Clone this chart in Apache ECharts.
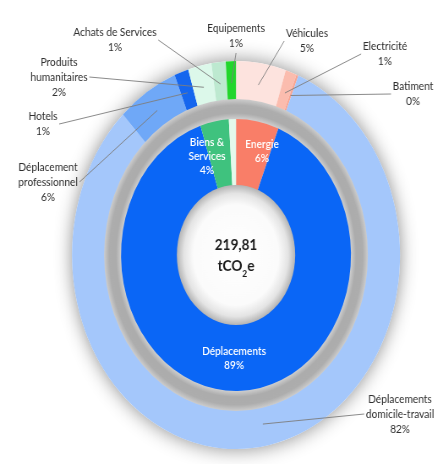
<!DOCTYPE html>
<html>
<head>
<meta charset="utf-8">
<script src="https://cdn.jsdelivr.net/npm/echarts@6/dist/echarts.min.js"></script>
<style>
  html, body { margin: 0; padding: 0; background: #ffffff; overflow: hidden; }
  #chart { width: 516px; height: 464px; transform: scaleX(0.8454); transform-origin: 0 0; }
</style>
</head>
<body>
<div id="chart"></div>
<script>
// Carbon footprint breakdown, shares of the total (%)
const TOTAL = '219,81';
const UNIT = 'tCO₂e';

// inner ring: main categories (clockwise from 12 o'clock)
const innerNames = ['Energie', 'Déplacements', 'Biens &\nServices', ''];
const innerValues = [6, 89, 4, 1];

// outer ring: sub-categories (clockwise from 12 o'clock)
const outerNames = [
  'Véhicules', 'Electricité', 'Batiment',
  'Déplacements\ndomicile-travail', 'Déplacement\nprofessionnel', 'Hotels',
  'Produits\nhumanitaires', 'Achats de Services', 'Equipements'
];
const outerValues = [4.9, 1.1, 0.2, 81.6, 6.0, 1.4, 2.3, 1.4, 1.0];

// colours
const innerColors = ['#f97e68', '#0a66f6', '#3fc27e', '#e4f9ec'];
const outerColors = ['#fde3de', '#fbbcae', '#f8a592', '#a4c7fb', '#6fa8f7', '#1566ee', '#dcf8ea', '#bde9d0', '#22d62c'];

// the canvas is squeezed horizontally by CSS, which makes the rings elliptical
const SX = 0.8454;
const CENTER = [236 / SX, 255];

// where each label sits on the page (page pixels, x / y)
const outerLabelSpots = [[307, 41], [385, 54], [413, 94], [400, 414], [48, 182], [43, 124], [59, 77], [115, 40], [236, 36]];
const innerLabelSpots = [[262, 151], [234, 358], [207, 156], null];

const FONT = 'Lato, "Open Sans", sans-serif';

function spotLayout(spots) {
  return function (params) {
    const p = spots[params.dataIndex];
    if (!p) return {};
    return { x: p[0] / SX, y: p[1], align: 'center', verticalAlign: 'middle' };
  };
}

const pctLabel = p => p.name + '\n' + Math.round(p.value) + '%';

const outerData = outerValues.map((v, i) => ({
  name: outerNames[i], value: v, itemStyle: { color: outerColors[i] }
}));
const innerData = innerValues.map((v, i) => ({
  name: innerNames[i], value: v, itemStyle: { color: innerColors[i] },
  label: { show: innerNames[i] !== '' }
}));

const flat = { scale: false, disabled: true };

const chart = echarts.init(document.getElementById('chart'), null, { renderer: 'canvas' });
chart.setOption({
  backgroundColor: '#ffffff',
  animation: false,
  series: [
    // soft shadow behind the whole disc
    {
      type: 'pie', silent: true, z: 1, center: CENTER, radius: [0, 194],
      label: { show: false }, labelLine: { show: false }, emphasis: flat,
      itemStyle: { color: '#ffffff', borderWidth: 0, shadowBlur: 20, shadowColor: 'rgba(0,0,0,0.45)' },
      data: [{ value: 1 }]
    },
    // outer ring
    {
      type: 'pie', silent: true, z: 2, center: CENTER, radius: [155, 194],
      startAngle: 90, clockwise: true, avoidLabelOverlap: false,
      label: { show: false }, labelLine: { show: false }, emphasis: flat,
      itemStyle: { borderWidth: 0 },
      data: outerData
    },
    // grey separator ring
    {
      type: 'pie', silent: true, z: 2, center: CENTER, radius: [135, 156],
      label: { show: false }, labelLine: { show: false }, emphasis: flat,
      itemStyle: {
        borderWidth: 0,
        color: new echarts.graphic.RadialGradient(0.5, 0.5, 0.5, [
          { offset: 0.865, color: '#d4d4d4' },
          { offset: 0.91, color: '#acacac' },
          { offset: 0.96, color: '#adadad' },
          { offset: 1, color: '#cdcdcd' }
        ])
      },
      data: [{ value: 1 }]
    },
    // inner ring
    {
      type: 'pie', silent: true, z: 3, center: CENTER, radius: [68, 136],
      startAngle: 90, clockwise: true, avoidLabelOverlap: false,
      emphasis: flat,
      itemStyle: { borderWidth: 0 },
      label: {
        show: true, position: 'inside', rotate: 0, formatter: pctLabel,
        color: '#ffffff', fontFamily: FONT, fontSize: 12, fontWeight: 600, lineHeight: 14
      },
      labelLine: { show: false },
      labelLayout: spotLayout(innerLabelSpots),
      data: innerData
    },
    // central hole with the total
    {
      type: 'pie', silent: true, z: 4, center: CENTER, radius: [0, 70],
      labelLine: { show: false }, emphasis: flat,
      itemStyle: {
        borderWidth: 0,
        color: new echarts.graphic.RadialGradient(0.5, 0.5, 0.5, [
          { offset: 0, color: '#ffffff' },
          { offset: 0.72, color: '#fbfbfb' },
          { offset: 0.88, color: '#e4e4e4' },
          { offset: 1, color: '#b4b4b4' }
        ])
      },
      label: {
        show: true, position: 'center',
        formatter: '{v|' + TOTAL + '}\n{u|tCO}{s|2}{u|e}',
        rich: {
          v: { fontFamily: FONT, fontSize: 16, fontWeight: 700, color: '#1c1c1c', lineHeight: 21 },
          u: { fontFamily: FONT, fontSize: 16, fontWeight: 700, color: '#1c1c1c', lineHeight: 21 },
          s: { fontFamily: FONT, fontSize: 10, fontWeight: 700, color: '#1c1c1c', lineHeight: 21, verticalAlign: 'bottom', padding: [0, 0, -3, 0] }
        }
      },
      data: [{ value: 1, name: UNIT }]
    },
    // outer labels, anchored on the middle of the outer ring
    {
      type: 'pie', silent: true, z: 10, center: CENTER, radius: [0, 172],
      startAngle: 90, clockwise: true, avoidLabelOverlap: false,
      emphasis: flat,
      itemStyle: { color: 'rgba(0,0,0,0)', borderWidth: 0 },
      label: {
        show: true, position: 'outside', formatter: pctLabel,
        color: '#2e2e2e', fontFamily: FONT, fontSize: 12, lineHeight: 15, padding: 2
      },
      labelLine: {
        show: true, length: 4, length2: 0, minTurnAngle: 0, smooth: false,
        lineStyle: { color: '#7e7e7e', width: 0.9 }
      },
      labelLayout: spotLayout(outerLabelSpots),
      data: outerValues.map((v, i) => ({ name: outerNames[i], value: v }))
    }
  ]
});
</script>
</body>
</html>
